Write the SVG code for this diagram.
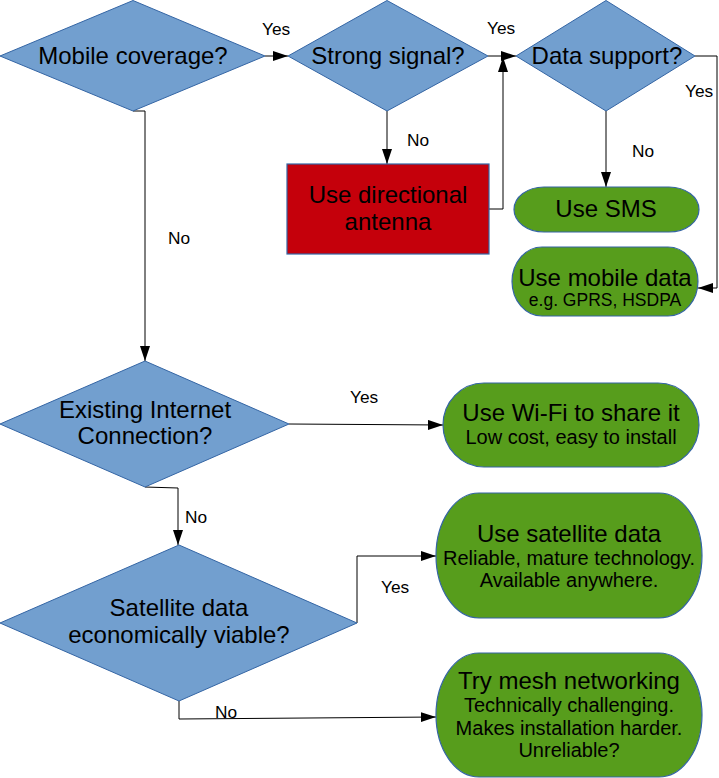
<svg xmlns="http://www.w3.org/2000/svg" width="719" height="778" viewBox="0 0 719 778">
<style>
.dia{fill:#729fcf;stroke:#3465a4;stroke-width:1}
.term{fill:#579d1c;stroke:#3465a4;stroke-width:1.2}
.proc{fill:#c5000b;stroke:#3465a4;stroke-width:1.2}
.t{font-family:"Liberation Sans",Arial,sans-serif;font-size:24px;fill:#000;text-anchor:middle}
.s{font-family:"Liberation Sans",Arial,sans-serif;font-size:20px;fill:#000;text-anchor:middle}
.l{font-family:"Liberation Sans",Arial,sans-serif;font-size:17.3px;fill:#000}
.c{fill:none;stroke:#000;stroke-width:1}
</style>
<defs>
<marker id="arr" markerUnits="userSpaceOnUse" markerWidth="16" markerHeight="11" refX="15" refY="5" orient="auto">
<path d="M0,0 L15,5 L0,10 Z" fill="#000"/>
</marker>
</defs>
<g id="connectors">
<path class="c" d="M265,56 H288" marker-end="url(#arr)"/>
<path class="c" d="M488,56 H516" marker-end="url(#arr)"/>
<path class="c" d="M387,111 V164" marker-end="url(#arr)"/>
<path class="c" d="M489,209 H503 V57" marker-end="url(#arr)"/>
<path class="c" d="M695,56 H717 V288 H698" marker-end="url(#arr)"/>
<path class="c" d="M606,111 V187" marker-end="url(#arr)"/>
<path class="c" d="M133,111 H145 V361" marker-end="url(#arr)"/>
<path class="c" d="M289,424 L443,425" marker-end="url(#arr)"/>
<path class="c" d="M145,487 L178,488 V545" marker-end="url(#arr)"/>
<path class="c" d="M357,623 V556 H436" marker-end="url(#arr)"/>
<path class="c" d="M179,701 V719 L436,717" marker-end="url(#arr)"/>
<text class="l" x="262" y="35">Yes</text>
<text class="l" x="487" y="34">Yes</text>
<text class="l" x="685" y="97">Yes</text>
<text class="l" x="407" y="146">No</text>
<text class="l" x="632" y="157">No</text>
<text class="l" x="168" y="244">No</text>
<text class="l" x="350" y="403">Yes</text>
<text class="l" x="185" y="523">No</text>
<text class="l" x="381" y="593">Yes</text>
<text class="l" x="215" y="718">No</text>
</g>
<g id="mobile-coverage">
<polygon class="dia" points="0,56 133,0.5 265,56 133,111"/>
<text class="t" x="133" y="64">Mobile coverage?</text>
</g>
<g id="strong-signal">
<polygon class="dia" points="288,56 387,0.5 488,56 387,111"/>
<text class="t" x="388" y="64">Strong signal?</text>
</g>
<g id="data-support">
<polygon class="dia" points="516,56 606,0.5 695,56 606,111"/>
<text class="t" x="607" y="64">Data support?</text>
</g>
<g id="directional-antenna">
<rect class="proc" x="287" y="164" width="202" height="90"/>
<text class="t" x="388" y="203">Use directional</text>
<text class="t" x="388" y="230">antenna</text>
</g>
<g id="use-sms">
<path class="term" d="M544,187 H669 A30,22.5 0 0 1 669,232 H544 A30,22.5 0 0 1 544,187 Z"/>
<text class="t" x="606" y="217">Use SMS</text>
</g>
<g id="mobile-data">
<path class="term" d="M542,247 H668 A30,34.5 0 0 1 668,316 H542 A30,34.5 0 0 1 542,247 Z"/>
<text class="t" x="605" y="286">Use mobile data</text>
<text class="s" x="605" y="306" style="font-size:17.5px">e.g. GPRS, HSDPA</text>
</g>
<g id="existing-internet">
<polygon class="dia" points="0,424 145,361 289,424 145,487"/>
<text class="t" x="145" y="418">Existing Internet</text>
<text class="t" x="145" y="444">Connection?</text>
</g>
<g id="use-wifi">
<path class="term" d="M484,383 H658 A41,42 0 0 1 658,467 H484 A41,42 0 0 1 484,383 Z"/>
<text class="t" x="571" y="421">Use Wi-Fi to share it</text>
<text class="s" x="571" y="444">Low cost, easy to install</text>
</g>
<g id="satellite-viable">
<polygon class="dia" points="0,623 179,545 357,623 179,701"/>
<text class="t" x="179" y="616">Satellite data</text>
<text class="t" x="179" y="643">economically viable?</text>
</g>
<g id="use-satellite">
<path class="term" d="M479,493 H659 A43,62.5 0 0 1 659,618 H479 A43,62.5 0 0 1 479,493 Z"/>
<text class="t" x="569" y="542">Use satellite data</text>
<text class="s" x="569" y="565">Reliable, mature technology.</text>
<text class="s" x="569" y="587">Available anywhere.</text>
</g>
<g id="mesh-networking">
<path class="term" d="M479,653 H659 A43,62 0 0 1 659,777 H479 A43,62 0 0 1 479,653 Z"/>
<text class="t" x="569" y="689">Try mesh networking</text>
<text class="s" x="569" y="712">Technically challenging.</text>
<text class="s" x="569" y="735">Makes installation harder.</text>
<text class="s" x="569" y="757">Unreliable?</text>
</g>
</svg>
